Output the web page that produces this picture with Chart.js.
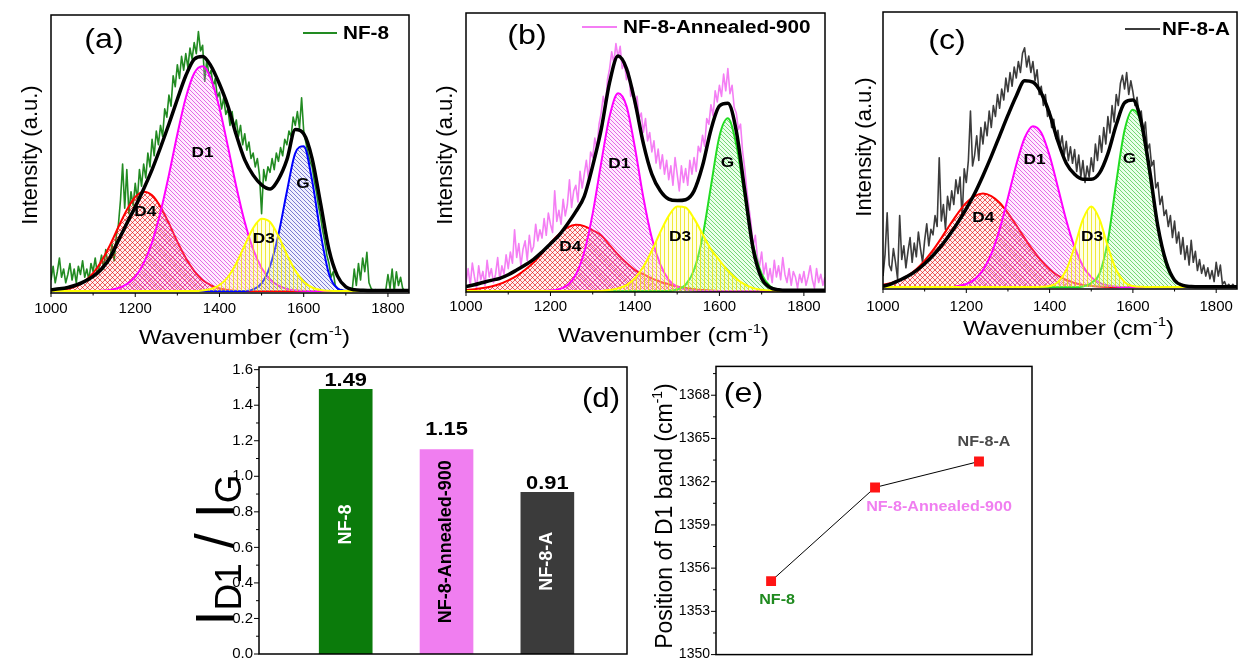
<!DOCTYPE html>
<html lang="en">
<head>
<meta charset="UTF-8">
<title>Raman D/G band analysis of NF-8 samples</title>
<script src="https://cdn.jsdelivr.net/npm/chart.js@4"></script>
<style>
  body { margin: 0; background: #fff; }
  #figure { position: relative; width: 1242px; height: 669px; overflow: hidden; background: #fff; }
  #figure canvas { position: absolute; }
</style>
</head>
<body>
<div id="figure">
  <canvas id="panelA" width="415" height="352" style="left:0;top:0"></canvas>
  <canvas id="panelB" width="415" height="352" style="left:415px;top:0"></canvas>
  <canvas id="panelC" width="412" height="352" style="left:830px;top:0"></canvas>
  <canvas id="panelD" width="450" height="317" style="left:180px;top:352px"></canvas>
  <canvas id="panelE" width="612" height="317" style="left:630px;top:352px"></canvas>
</div>

<script>
const FONT = '"Liberation Sans", Arial, Helvetica, sans-serif';
Chart.defaults.font.family = FONT;
Chart.defaults.color = '#000';

const range = (from, to, step) =>
  Array.from({ length: Math.round((to - from) / step) + 1 }, (_, i) => from + i * step);

// sampling grids in cm-1: fitted bands every 20, measured spectra every 5
const wnFit = range(1000, 1860, 20);
const wnRaw = range(1000, 1850, 5);
const wnTicks = [1000, 1200, 1400, 1600, 1800];

// ---- NF-8 ----
const nf8Raw = [
  4, 9, 3, 7, 12, 5, 8, 3, 6, 10, 4, 8, 3, 9, 6, 11, 5, 8, 4, 10,
  7, 12, 6, 9, 13, 8, 15, 10, 12, 17, 11, 20, 24, 33, 46, 30, 44, 28, 36, 31,
  39, 33, 44, 38, 46, 41, 50, 45, 55, 49, 58, 53, 60, 56, 66, 63, 71, 67, 78, 74,
  82, 77, 85, 80, 86, 81, 88, 84, 90, 86, 94, 87, 89, 76, 84, 78, 80, 74, 77, 70,
  72, 66, 70, 64, 66, 60, 65, 59, 62, 56, 60, 53, 57, 51, 54, 48, 50, 45, 48, 42,
  28, 44, 40, 45, 43, 48, 44, 50, 47, 52, 49, 55, 53, 58, 56, 63, 60, 65, 59, 70,
  58, 54, 50, 47, 45, 40, 36, 31, 27, 22, 18, 13, 10, 5, 7, 2, 1, 0, 0.5, 0,
  0, 0, 0.5, 0, 8, 2, 10, 4, 12, 7, 14, 3, 1, 0, 0.5, 0, 0, 0, 0, 0.5,
  6, 1, 8, 0, 7, 2, 5, 1, 0, 0, 0
];
const nf8D4 = [
  0.1, 0.3, 0.8, 1.8, 3.6, 6.5, 10.9, 16.6, 23.2, 29.4,
  34.1, 36, 34.7, 30.5, 24.5, 17.9, 12, 7.3, 4, 2.1,
  0.9, 0.4, 0.1, 0, 0, 0, 0, 0, 0, 0,
  0, 0, 0, 0, 0, 0, 0, 0, 0, 0,
  0, 0, 0, 0
];
const nf8D1 = [
  0, 0, 0, 0, 0, 0, 0.1, 0.4, 1.1, 2.5,
  5.2, 10.1, 17.7, 28.6, 42.1, 56.8, 70, 78.9, 81.4, 76.8,
  66.3, 52.4, 37.8, 25, 15.1, 8.4, 4.2, 2, 0.8, 0.3,
  0.1, 0, 0, 0, 0, 0, 0, 0, 0, 0,
  0, 0, 0, 0
];
const nf8D3 = [
  0, 0, 0, 0, 0, 0, 0, 0, 0, 0,
  0, 0, 0, 0, 0, 0, 0, 0, 0.2, 0.8,
  2.2, 5.1, 10.1, 16.6, 22.8, 26.2, 25, 19.9, 13.3, 7.4,
  3.4, 1.3, 0.4, 0.1, 0, 0, 0, 0, 0, 0,
  0, 0, 0, 0
];
const nf8G = [
  0, 0, 0, 0, 0, 0, 0, 0, 0, 0,
  0, 0, 0, 0, 0, 0, 0, 0, 0, 0,
  0, 0, 0, 0, 0.6, 2.8, 9, 20.5, 36, 50,
  52.5, 40, 21, 6.2, 1, 0.1, 0, 0, 0, 0,
  0, 0, 0, 0
];
const nf8Fit = [
  0.5, 0.8, 1.3, 2.2, 3.5, 5.3, 8, 12, 18.3, 24.5,
  30.5, 37, 44, 52, 60.5, 69.5, 78, 84, 85, 81.5,
  75, 67, 56.5, 47.5, 42, 38.5, 37, 40.5, 47.5, 58.5,
  57, 48, 31.8, 15, 5.5, 1.5, 0.5, 0.3, 0.2, 0.2,
  0.2, 0.2, 0.2, 0.2
];

// ---- NF-8-Annealed-900 ----
const annRaw = [
  3, 8, 2, 10, 5, 1, 9, 4, 7, 2, 11, 5, 8, 3, 6, 12, 4, 9, 6, 13,
  8, 14, 10, 22, 12, 17, 9, 15, 18, 11, 20, 14, 16, 24, 18, 22, 19, 26, 20, 28,
  24, 21, 36, 25, 29, 24, 33, 27, 31, 40, 30, 36, 38, 32, 43, 37, 42, 47, 40, 50,
  48, 55, 51, 60, 64, 70, 66, 76, 80, 86, 82, 89, 84, 88, 80, 82, 76, 79, 70, 73,
  66, 70, 62, 64, 57, 62, 54, 57, 50, 54, 46, 51, 44, 49, 42, 47, 40, 45, 38, 48,
  42, 36, 45, 39, 44, 38, 47, 42, 48, 43, 52, 50, 56, 52, 62, 60, 67, 63, 72, 68,
  74, 70, 78, 72, 80, 71, 74, 66, 64, 58, 60, 50, 44, 36, 30, 24, 16, 20, 12, 9,
  14, 6, 10, 4, 8, 3, 11, 5, 9, 4, 12, 6, 3, 8, 2, 7, 5, 1, 6, 3,
  7, 2, 5, 9, 4, 1, 8, 3, 6, 2, 5
];
const annD4 = [
  0.3, 0.6, 1, 1.6, 2.5, 3.8, 5.4, 7.6, 10.2, 13.5,
  17.2, 20.4, 22.8, 23.8, 23.3, 21.8, 20, 16.5, 13, 10,
  7.5, 6, 4.5, 3.3, 2.4, 1.6, 1, 0.6, 0.3, 0.1,
  0, 0, 0, 0, 0, 0, 0, 0, 0, 0,
  0, 0, 0, 0
];
const annD1 = [
  0, 0, 0, 0, 0, 0, 0, 0, 0, 0,
  0.1, 0.6, 2, 5.8, 14, 27.9, 46, 62.8, 71.1, 66.5,
  51.5, 33.5, 19, 9.5, 4, 1.5, 0.5, 0.1, 0, 0,
  0, 0, 0, 0, 0, 0, 0, 0, 0, 0,
  0, 0, 0, 0
];
const annD3 = [
  0, 0, 0, 0, 0, 0, 0, 0, 0, 0,
  0, 0, 0, 0, 0, 0, 0, 0.3, 0.9, 2.1,
  4.6, 8.7, 14.5, 21.1, 27, 30.4, 30, 26, 20.5, 15,
  11, 7.3, 4.4, 2.3, 1, 0.4, 0.1, 0, 0, 0,
  0, 0, 0, 0
];
const annG = [
  0, 0, 0, 0, 0, 0, 0, 0, 0, 0,
  0, 0, 0, 0, 0, 0, 0, 0, 0, 0,
  0, 0, 0, 0, 0, 0.5, 2.2, 7.6, 19.4, 37.7,
  55.6, 62.1, 52.6, 33.8, 16.4, 6.1, 1.7, 0.4, 0.1, 0,
  0, 0, 0, 0
];
const annFit = [
  1.5, 2.2, 3, 3.8, 4.5, 5.8, 7.5, 9.3, 11.3, 14,
  17, 20, 24, 28.5, 34, 45, 58, 75, 84.5, 80,
  68, 53, 42, 36, 33, 32.5, 32.8, 36, 45, 58,
  66.5, 67.5, 57.5, 36, 15, 4.5, 1.2, 0.4, 0.2, 0.2,
  0.2, 0.2, 0.2, 0.2
];

// ---- NF-8-A ----
const nfaRaw = [
  4, 12, 27, 8, 6, 14, 9, 3, 26, 10, 15, 7, 13, 18, 9, 16, 11, 20, 14, 9,
  17, 23, 15, 21, 19, 26, 22, 47, 24, 30, 21, 33, 28, 35, 30, 39, 34, 40, 25, 43,
  38, 46, 64, 44, 48, 55, 46, 58, 52, 60, 55, 64, 58, 66, 62, 70, 65, 72, 68, 76,
  71, 78, 73, 80, 76, 82, 78, 85, 87, 80, 84, 78, 82, 75, 79, 70, 73, 66, 70, 62,
  64, 58, 61, 54, 57, 51, 55, 48, 53, 46, 51, 45, 50, 42, 48, 40, 46, 38, 44, 40,
  47, 42, 52, 46, 55, 49, 58, 52, 62, 56, 66, 60, 70, 66, 74, 77, 72, 78, 70, 75,
  71, 66, 69, 62, 64, 56, 60, 50, 52, 44, 46, 36, 38, 30, 33, 26, 28, 22, 26, 18,
  24, 16, 20, 12, 18, 10, 15, 8, 17, 9, 13, 6, 10, 5, 8, 4, 7, 3, 6, 2,
  9, 4, 8, 1, 2, 0, 1, 0, 1, 0, 0
];
const nfaD4 = [
  0.8, 1.5, 2.6, 4.2, 6.5, 9.6, 13.4, 17.8, 22.5, 26.9,
  30.7, 33.1, 34, 33.1, 30.7, 26.9, 22.5, 17.8, 13.4, 9.6,
  6.5, 4.2, 2.6, 1.5, 0.8, 0.4, 0.2, 0.1, 0, 0,
  0, 0, 0, 0, 0, 0, 0, 0, 0, 0,
  0, 0, 0, 0
];
const nfaD1 = [
  0, 0, 0, 0, 0, 0, 0, 0, 0, 0.4,
  1.1, 2.8, 6.2, 12.1, 21, 32.5, 44.5, 54.2, 58.5, 56.1,
  47.8, 36.2, 24.3, 14.5, 7.7, 3.6, 1.5, 0.6, 0.2, 0,
  0, 0, 0, 0, 0, 0, 0, 0, 0, 0,
  0, 0, 0, 0
];
const nfaD3 = [
  0, 0, 0, 0, 0, 0, 0, 0, 0, 0,
  0, 0, 0, 0, 0, 0, 0, 0, 0, 0.1,
  0.4, 1.8, 6.2, 14.7, 24.6, 29.3, 24.6, 14.7, 6.2, 1.8,
  0.4, 0.1, 0, 0, 0, 0, 0, 0, 0, 0,
  0, 0, 0, 0
];
const nfaG = [
  0, 0, 0, 0, 0, 0, 0, 0, 0, 0,
  0, 0, 0, 0, 0, 0, 0, 0, 0, 0,
  0, 0, 0, 0, 0.2, 1.5, 5, 17, 38, 57,
  64.5, 59.5, 41, 21.5, 8, 2.2, 0.5, 0.1, 0, 0,
  0, 0, 0, 0
];
const nfaFit = [
  0.3, 1.2, 2.5, 4, 6, 8.5, 11.5, 15, 19, 23.5,
  28.5, 34, 40.5, 47.5, 55, 62.5, 69.5, 75, 74.5, 70.5,
  63, 53, 45, 41, 39.2, 39.2, 41.5, 48.5, 59, 67,
  68, 60, 42.6, 22, 9, 2.5, 0.6, 0.2, 0.1, 0.1,
  0.1, 0.1, 0.1, 0.1
];

// ---- summary panels ----
const samples = ['NF-8', 'NF-8-Annealed-900', 'NF-8-A'];
const ratioD1G = [1.49, 1.15, 0.91];
const ratioTicks = [0, 0.2, 0.4, 0.6, 0.8, 1.0, 1.2, 1.4, 1.6];
const d1Position = [1355.1, 1361.6, 1363.4];
const positionTicks = [1350, 1353, 1356, 1359, 1362, 1365, 1368];

// ---------- drawing helpers ----------
const pairs = (xs, ys) => ys.map((y, i) => ({ x: xs[i], y }));

function label(ctx, str, x, y, o = {}) {
  ctx.save();
  ctx.translate(x, y);
  ctx.scale(o.stretch ?? 1.15, 1);
  ctx.font = `${o.bold ? 'bold ' : ''}${o.size || 15}px ${FONT}`;
  ctx.fillStyle = o.color || '#000';
  ctx.textAlign = o.align || 'center';
  ctx.textBaseline = o.base || 'middle';
  ctx.fillText(str, 0, 0);
  ctx.restore();
}

function vlabel(ctx, str, x, y, o = {}) {
  ctx.save();
  ctx.translate(x, y);
  ctx.rotate(-Math.PI / 2);
  label(ctx, str, 0, 0, { ...o, stretch: 1 });
  ctx.restore();
}

// text runs with sub/superscripts; parts = [{t, s (size factor), dy (em shift)}]
function runs(ctx, parts, x, y, size, o = {}) {
  ctx.save();
  ctx.translate(x, y);
  if (o.rotate) ctx.rotate(-Math.PI / 2);
  ctx.scale(o.stretch ?? 1, 1);
  ctx.fillStyle = '#000';
  ctx.textBaseline = 'alphabetic';
  ctx.textAlign = 'left';
  const fontOf = p => `${Math.round(size * (p.s || 1))}px ${FONT}`;
  let w = 0;
  parts.forEach(p => { ctx.font = fontOf(p); w += ctx.measureText(p.t).width; });
  let cx = o.center ? -w / 2 : 0;
  parts.forEach(p => {
    ctx.font = fontOf(p);
    ctx.fillText(p.t, cx, (p.dy || 0) * size);
    cx += ctx.measureText(p.t).width;
  });
  ctx.restore();
}

function frame(ctx, a, w = 1.5) {
  ctx.save();
  ctx.strokeStyle = '#000';
  ctx.lineWidth = w;
  ctx.strokeRect(a.left, a.top, a.right - a.left, a.bottom - a.top);
  ctx.restore();
}

function tickMark(ctx, x1, y1, x2, y2) {
  ctx.save();
  ctx.strokeStyle = '#000';
  ctx.lineWidth = 1;
  ctx.beginPath();
  ctx.moveTo(x1, y1);
  ctx.lineTo(x2, y2);
  ctx.stroke();
  ctx.restore();
}

function hatch(kind, line, tint) {
  const n = kind === 'cross' ? 5 : 4;
  const c = document.createElement('canvas');
  c.width = c.height = n;
  const g = c.getContext('2d');
  if (tint) { g.fillStyle = tint; g.fillRect(0, 0, n, n); }
  g.strokeStyle = line;
  g.lineWidth = 1;
  g.beginPath();
  if (kind === 'vert') { g.moveTo(1.5, 0); g.lineTo(1.5, n); }
  if (kind === 'back' || kind === 'cross') { g.moveTo(-1, -1); g.lineTo(n + 1, n + 1); }
  if (kind === 'cross') { g.moveTo(-1, n + 1); g.lineTo(n + 1, -1); }
  g.stroke();
  return g.createPattern(c, 'repeat');
}

const fills = {
  d4: hatch('cross', 'rgba(225,0,0,0.6)', 'rgba(255,140,140,0.12)'),
  d1: hatch('back', 'rgba(205,0,205,0.55)', 'rgba(255,160,255,0.2)'),
  d3: hatch('vert', 'rgba(235,225,0,0.75)', 'rgba(255,255,170,0.3)'),
  gBlue: hatch('back', 'rgba(30,30,170,0.55)', 'rgba(130,130,255,0.12)'),
  gGreen: hatch('back', 'rgba(0,175,0,0.5)', 'rgba(150,255,150,0.2)')
};

// ---------- Raman spectra (a)-(c) ----------
function decorateSpectrum(chart, p) {
  const { ctx, chartArea: a, scales: { x, y } } = chart;
  frame(ctx, a);
  wnTicks.forEach(v => {
    const px = x.getPixelForValue(v);
    tickMark(ctx, px, a.bottom, px, a.bottom + 4);
    if (v + 100 < 1850) {
      const mx = x.getPixelForValue(v + 100);
      tickMark(ctx, mx, a.bottom, mx, a.bottom + 2.5);
    }
  });

  runs(ctx, [{ t: 'Wavenumber (cm' }, { t: '-1', s: 0.6, dy: -0.42 }, { t: ')' }],
    p.xTitle[0], p.xTitle[1], 21, { stretch: 1.15 });
  runs(ctx, [{ t: 'Intensity (a.u.)' }], p.yTitle[0], p.yTitle[1], 22, { rotate: true, center: true });
  label(ctx, p.letter[0], p.letter[1], p.letter[2], { size: 28 });

  // legend
  const L = p.legend;
  ctx.save();
  ctx.strokeStyle = p.rawColor;
  ctx.lineWidth = 2;
  ctx.beginPath();
  ctx.moveTo(L.x0, L.y);
  ctx.lineTo(L.x1, L.y);
  ctx.stroke();
  ctx.restore();
  label(ctx, p.name, L.tx, L.ty, { bold: true, size: 18, align: 'left' });

  p.bands.forEach(([t, wn, v]) =>
    label(ctx, t, x.getPixelForValue(wn), y.getPixelForValue(v), { bold: true, size: 15 }));
}

function spectrum(id, p) {
  const band = (values, color, pattern, order) => ({
    data: pairs(wnFit, values), borderColor: color, borderWidth: 2,
    backgroundColor: pattern, fill: 'origin', order, cubicInterpolationMode: 'monotone'
  });
  return new Chart(document.getElementById(id), {
    type: 'line',
    data: {
      datasets: [
        { data: pairs(wnRaw, p.raw), borderColor: p.rawColor, borderWidth: 1.6,
          borderJoinStyle: 'round', fill: false, order: 6 },
        band(p.d4, '#ff0000', fills.d4, 5),
        band(p.d1, '#ff00ff', fills.d1, 4),
        band(p.g, p.gColor, p.gFill, 3),
        band(p.d3, '#ffff00', fills.d3, 2),
        { data: pairs(wnFit, p.fit), borderColor: '#000', borderWidth: 3.5, fill: false,
          order: 0, cubicInterpolationMode: 'monotone' }
      ]
    },
    options: {
      responsive: false, animation: false, events: [],
      layout: { padding: { left: p.box.left, top: p.box.top, right: p.box.right, bottom: 0 } },
      elements: { point: { radius: 0 } },
      plugins: { legend: { display: false }, tooltip: { enabled: false } },
      scales: {
        x: {
          type: 'linear', min: 1000, max: 1850,
          afterBuildTicks: s => { s.ticks = wnTicks.map(value => ({ value })); },
          afterFit: s => { s.height = p.box.axis; },
          grid: { display: false, drawTicks: false },
          border: { display: false },
          ticks: { font: { size: 15 }, padding: p.box.tickPad, maxRotation: 0, autoSkip: false,
                   callback: v => String(v) }
        },
        y: { display: false, min: p.ymin, max: 100 }
      }
    },
    plugins: [{ id: 'decor', afterDraw: c => decorateSpectrum(c, p) }]
  });
}

spectrum('panelA', {
  raw: nf8Raw, d4: nf8D4, d1: nf8D1, d3: nf8D3, g: nf8G, fit: nf8Fit,
  name: 'NF-8', rawColor: '#228b22', gColor: '#0000ff', gFill: fills.gBlue,
  box: { left: 51, top: 15, right: 6, axis: 59, tickPad: 7 }, ymin: -0.7,
  xTitle: [139, 344], yTitle: [37, 155], letter: ['(a)', 104, 40],
  legend: { x0: 303, x1: 337, y: 33, tx: 343, ty: 34 },
  bands: [['D4', 1224, 28.6], ['D1', 1360, 50], ['D3', 1505, 18.8], ['G', 1598, 39]]
});

spectrum('panelB', {
  raw: annRaw, d4: annD4, d1: annD1, d3: annD3, g: annG, fit: annFit,
  name: 'NF-8-Annealed-900', rawColor: '#f47ef4', gColor: '#22dd22', gFill: fills.gGreen,
  box: { left: 51, top: 13, right: 5, axis: 60, tickPad: 6 }, ymin: -0.4,
  xTitle: [143, 342], yTitle: [37, 155], letter: ['(b)', 112, 36],
  legend: { x0: 167, x1: 202, y: 27, tx: 208, ty: 28 },
  bands: [['D4', 1247, 15.8], ['D1', 1363, 45.7], ['D3', 1507, 19.4], ['G', 1619, 46]]
});

spectrum('panelC', {
  raw: nfaRaw, d4: nfaD4, d1: nfaD1, d3: nfaD3, g: nfaG, fit: nfaFit,
  name: 'NF-8-A', rawColor: '#3c3c3c', gColor: '#22dd22', gFill: fills.gGreen,
  box: { left: 53, top: 12, right: 2, axis: 63, tickPad: 9 }, ymin: -0.7,
  xTitle: [133, 335], yTitle: [41, 147], letter: ['(c)', 117, 41],
  legend: { x0: 295, x1: 330, y: 29, tx: 332, ty: 30 },
  bands: [['D4', 1241, 25.2], ['D1', 1364, 46.2], ['D3', 1502, 18.3], ['G', 1592, 46.6]]
});

// ---------- (d) ID1/IG ratio ----------
const barColors = ['#0b7b0b', '#f07ef0', '#3b3b3b'];
const barTextColors = ['#fff', '#000', '#fff'];
const valueLift = [3, 14.5, 3];
const nameShift = [3, -10, -12];

new Chart(document.getElementById('panelD'), {
  type: 'bar',
  data: {
    datasets: [{
      data: ratioD1G.map((y, i) => ({ x: i + 1, y })),
      backgroundColor: barColors, barThickness: 53, borderWidth: 0
    }]
  },
  options: {
    responsive: false, animation: false, events: [],
    layout: { padding: { left: 0, top: 13, right: 3, bottom: 8 } },
    plugins: { legend: { display: false }, tooltip: { enabled: false } },
    scales: {
      x: { type: 'linear', display: false, offset: false, min: 0.14, max: 3.79 },
      y: {
        min: 0, max: 1.615,
        afterBuildTicks: s => { s.ticks = ratioTicks.map(value => ({ value })); },
        afterFit: s => { s.width = 79; },
        grid: { display: false, drawTicks: false },
        border: { display: false },
        ticks: { font: { size: 15 }, padding: 6, autoSkip: false, callback: v => v.toFixed(1) }
      }
    }
  },
  plugins: [{
    id: 'decor',
    afterDraw(chart) {
      const { ctx, chartArea: a, scales: { y } } = chart;
      frame(ctx, a);
      ratioTicks.forEach((v, i) => {
        const py = y.getPixelForValue(v);
        tickMark(ctx, a.left - 5, py, a.left, py);
        if (i > 0) {
          const my = y.getPixelForValue((v + ratioTicks[i - 1]) / 2);
          tickMark(ctx, a.left - 3, my, a.left, my);
        }
      });
      chart.getDatasetMeta(0).data.forEach((bar, i) => {
        label(ctx, ratioD1G[i].toFixed(2), bar.x, bar.y - valueLift[i],
          { bold: true, size: 19, base: 'alphabetic' });
        vlabel(ctx, samples[i], bar.x, (bar.y + bar.base) / 2 + nameShift[i],
          { bold: true, size: 18, color: barTextColors[i] });
      });
      label(ctx, '(d)', 421, 47.5, { size: 27 });
      // I_D1 / I_G
      runs(ctx, [{ t: 'I' }, { t: 'D1', s: 0.68, dy: 0.15 }, { t: ' / I' }, { t: 'G', s: 0.68, dy: 0.15 }],
        53, 198, 54, { rotate: true, center: true });
    }
  }]
});

// ---------- (e) D1 band position ----------
const pointTextColors = ['#1f8a1f', '#f07ef0', '#4a4a4a'];
const pointTextOffset = [[6, 19], [64, 20], [5, -19]];

new Chart(document.getElementById('panelE'), {
  type: 'line',
  data: {
    datasets: [{
      data: d1Position.map((y, i) => ({ x: i + 1, y })),
      borderColor: '#000', borderWidth: 1,
      pointStyle: 'rect', pointRadius: 7,
      pointBackgroundColor: '#ff1414', pointBorderColor: '#ff1414', pointBorderWidth: 0
    }]
  },
  options: {
    responsive: false, animation: false, events: [],
    layout: { padding: { left: 0, top: 10, right: 210, bottom: 7 } },
    plugins: { legend: { display: false }, tooltip: { enabled: false } },
    scales: {
      x: { type: 'linear', display: false, min: 0.47, max: 3.51 },
      y: {
        min: 1350, max: 1370,
        afterBuildTicks: s => { s.ticks = positionTicks.map(value => ({ value })); },
        afterFit: s => { s.width = 86; },
        grid: { display: false, drawTicks: false },
        border: { display: false },
        ticks: { font: { size: 14 }, padding: 6, autoSkip: false, callback: v => String(v) }
      }
    }
  },
  plugins: [{
    id: 'decor',
    afterDraw(chart) {
      const { ctx, chartArea: a, scales: { y } } = chart;
      frame(ctx, a);
      positionTicks.forEach(v => {
        const py = y.getPixelForValue(v);
        tickMark(ctx, a.left - 5, py, a.left, py);
        const my = y.getPixelForValue(v + 1.5);
        tickMark(ctx, a.left - 3, my, a.left, my);
      });
      chart.getDatasetMeta(0).data.forEach((pt, i) => {
        const [dx, dy] = pointTextOffset[i];
        label(ctx, samples[i], pt.x + dx, pt.y + dy, { bold: true, size: 14, color: pointTextColors[i] });
      });
      label(ctx, '(e)', 113.5, 42, { size: 28 });
      runs(ctx, [{ t: 'Position of D1 band (cm' }, { t: '-1', s: 0.6, dy: -0.42 }, { t: ')' }],
        42, 164, 23, { rotate: true, center: true });
    }
  }]
});
</script>
</body>
</html>
